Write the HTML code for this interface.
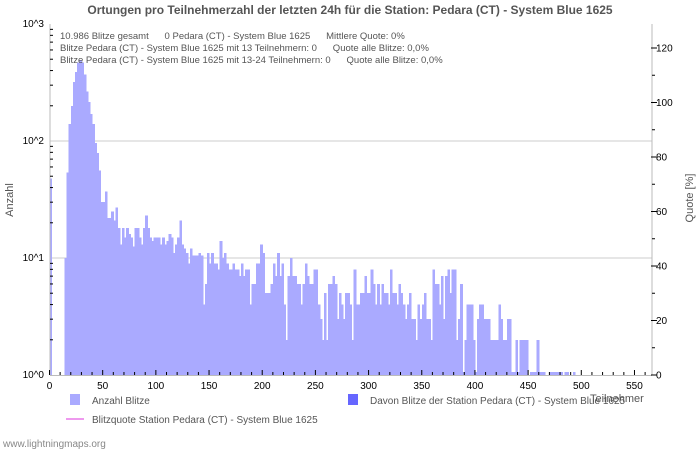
<!DOCTYPE html>
<html><head><meta charset="utf-8"><style>
body{margin:0;background:#fff;}
svg{display:block;font-family:"Liberation Sans","DejaVu Sans",sans-serif;}
</style></head><body>
<svg id="chart" width="700" height="450" viewBox="0 0 700 450">
<text x="350" y="14" text-anchor="middle" font-size="12" font-weight="bold" fill="#555">Ortungen pro Teilnehmerzahl der letzten 24h für die Station: Pedara (CT) - System Blue 1625</text>
<g id="grid"></g>
<g id="bars" shape-rendering="crispEdges"></g>
<g id="axes"></g>
<g font-size="9.5" fill="#555">
<text x="60" y="39" xml:space="preserve">10.986 Blitze gesamt      0 Pedara (CT) - System Blue 1625      Mittlere Quote: 0%</text>
<text x="60" y="51" xml:space="preserve">Blitze Pedara (CT) - System Blue 1625 mit 13 Teilnehmern: 0      Quote alle Blitze: 0,0%</text>
<text x="60" y="63" xml:space="preserve">Blitze Pedara (CT) - System Blue 1625 mit 13-24 Teilnehmern: 0      Quote alle Blitze: 0,0%</text>
</g>
<text x="13" y="200" transform="rotate(-90 13 200)" text-anchor="middle" font-size="11" fill="#555">Anzahl</text>
<text x="693" y="198" transform="rotate(-90 693 198)" text-anchor="middle" font-size="11" fill="#555">Quote [%]</text>
<text x="590" y="402" font-size="11" fill="#555">Teilnehmer</text>
<g font-size="10" fill="#555">
<rect x="70" y="394" width="10" height="11" fill="#aaaaff"/>
<text x="92" y="404">Anzahl Blitze</text>
<rect x="348" y="394" width="10" height="11" fill="#6666ff"/>
<text x="370" y="404">Davon Blitze der Station Pedara (CT) - System Blue 1625</text>
<line x1="66" y1="419" x2="84" y2="419" stroke="#ee99ee" stroke-width="2"/>
<text x="92" y="423">Blitzquote Station Pedara (CT) - System Blue 1625</text>
</g>
<text x="3" y="447" font-size="10" fill="#888">www.lightningmaps.org</text>
</svg>
<script>
const binWidth = 2;
const counts = [48,0,0,0,0,0,0,10,54,140,200,320,390,470,490,470,370,265,215,170,140,96,79,56,30,30,37,22,22,25,21,27,18,13,18,15,18,16,15,12.5,18,18,15,13,18,23,18,15,14,15,15,15,13,15,13,14,16,15,11,13,15,21,13,12,11,9,12,10.5,10.5,10.5,11,10.5,4,6,11,9,11,9,9,8,14,10,11,9,8,8,9,8,8,7,9,7,8,8,4,6,6,9,9,13,11,5,5,5,6,9,7,11,7,9,4,2,7,10,7,7,6,6,4,6,9,7,6,6,8,8,4,3,2,5,2,6,6,7,6,3,5,4,3,5,5,4,2,8,4,4,5,5,7,5,5,8,6,4,6,4,6,5,5,4,8,5,5,4,6,5,4,3,4,5,3,3,2,4,3,4,5,3,3,2,8,6,6,4,7,3,7,8,5,8,8,2,3,6,1.06,2,4,4,4,2,1.06,3,4,4,3,3,3,2,2,2,2,4,3,2,2,3,3,1.06,1.06,2,1.06,2,2,2,2,0,1.06,1.06,1.06,2,1.06,1.06,1.06,0,0,1.06,1.06,1.06,1.06,1.06,1.06,0,1.06,1.06,0,0,1.06,0];
const xTicks = [0,50,100,150,200,250,300,350,400,450,500,550];
const yTicks = [0,1,2,3];
const yTickLabels = ["10^0","10^1","10^2","10^3"];
const rightTicks = [0,20,40,60,80,100,120];

const NS = "http://www.w3.org/2000/svg";
const X0 = 49.5, XS = 1.0636, Y0 = 375, DEC = 117, PL = 50, PR = 652, PT = 24;
function xs(v){ return X0 + v*XS; }
function ys(v){ return Y0 - Math.log10(v)*DEC; }
function yr(p){ return Y0 - p*(Y0-48)/120; }
function mk(parent, tag, attrs){ const e=document.createElementNS(NS,tag); for(const k in attrs) e.setAttribute(k,attrs[k]); parent.appendChild(e); return e; }

const grid=document.getElementById('grid'), bars=document.getElementById('bars'), axes=document.getElementById('axes');
[1,2].forEach(d=>{
  const g=mk(grid,'line',{x1:PL,x2:PR,y1:ys(Math.pow(10,d)),y2:ys(Math.pow(10,d)),stroke:'#ccc','stroke-width':1});
  
  
});
counts.forEach((c,i)=>{
  if(c<=0) return;
  const y=ys(c);
  const r=mk(bars,'rect',{x:xs(i*binWidth),y:y,width:binWidth*XS+0.6,height:Math.max(0,Y0-y),fill:'#aaaaff'});
  
  
});
mk(axes,'line',{x1:PL,x2:PL,y1:PT,y2:Y0,stroke:'#bbb','stroke-width':1});
mk(axes,'line',{x1:PL,x2:PR,y1:Y0+0.5,y2:Y0+0.5,stroke:'#bbb','stroke-width':1});
mk(axes,'line',{x1:PR,x2:PR,y1:PT,y2:Y0,stroke:'#bbb','stroke-width':1});
for(let v=0; v<=560; v+=10){
  const big=v%50===0;
  mk(axes,'line',{x1:xs(v),x2:xs(v),y1:Y0,y2:Y0-(big?5:3),stroke:'#000','stroke-width':1});
}
xTicks.forEach(v=>{
  const t=mk(axes,'text',{x:xs(v),y:Y0+14,'text-anchor':'middle','font-size':10,fill:'#000'});
  t.textContent=v;
  
  
});
yTicks.forEach((d,i)=>{
  const y=Y0-d*DEC;
  const t=mk(axes,'text',{x:44,y:y+3,'text-anchor':'end','font-size':10,fill:'#000'});
  t.textContent=yTickLabels[i];
  
  
  if(d<3){ for(let m=2;m<=9;m++){ const yy=Y0-(d+Math.log10(m))*DEC; mk(axes,'line',{x1:PL,x2:PL+3,y1:yy,y2:yy,stroke:'#000','stroke-width':1}); } }
});
rightTicks.forEach(p=>{
  const y=yr(p);
  mk(axes,'line',{x1:PR-1,x2:PR+5,y1:y,y2:y,stroke:'#000','stroke-width':1});
  if(p<120) mk(axes,'line',{x1:PR,x2:PR+3,y1:yr(p+10),y2:yr(p+10),stroke:'#000','stroke-width':1});
  const t=mk(axes,'text',{x:PR+4,y:y+3.5,'font-size':10,fill:'#000'});
  t.textContent=p;
  
  
});
</script>
</body></html>
